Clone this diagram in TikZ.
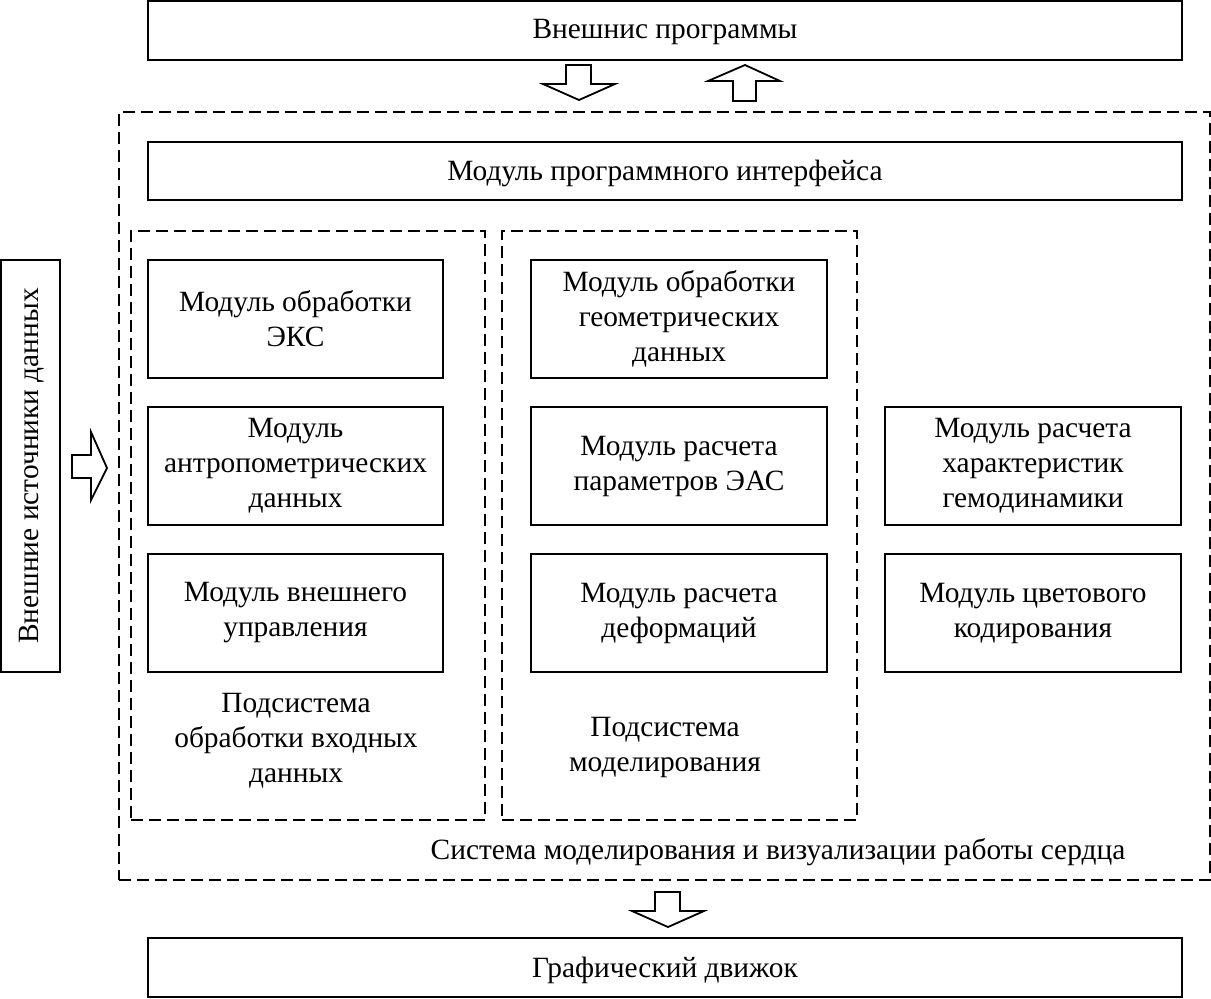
\documentclass[tikz,border=0pt]{standalone}
\usepackage{fontspec}
\setmainfont{Liberation Serif}
\usetikzlibrary{fit}
\begin{document}
\begin{tikzpicture}[x=0.5pt,y=-0.5pt,
  every node/.style={font=\fontsize{14.7}{17.5}\selectfont},
  box/.style={draw,line width=1pt,inner sep=0pt,align=center},
  dbox/.style={draw,line width=0.9pt,dash pattern=on 6pt off 3pt,inner sep=0pt},
  blockarrow/.style={draw,line width=0.9pt,fill=white,line join=miter},
  lbl/.style={align=center,inner sep=0pt}]
\useasboundingbox (0,0) rectangle (1211,998);
% outer dashed system
\node[dbox,fit={(119,112) (1210,880)}] (sys) {};
\node[dbox,fit={(131,231) (485,820)}] (sub1) {};
\node[dbox,fit={(502,231) (857,820)}] (sub2) {};
% top / bottom boxes
\node[box,fit={(148,1) (1182,60)}] (ext) {};
\node[lbl] (extt) at (665,32) {Внешнис программы};
\node[box,fit={(148,142) (1182,200)}] (api) {};
\node[lbl] (apit) at (665,173) {Модуль программного интерфейса};
\node[box,fit={(148,938) (1182,997)}] (gfx) {};
\node[lbl] (gfxt) at (665,970) {Графический движок};
% left source box
\node[box,fit={(1,260) (60,672)}] (src) {};
\node[lbl,rotate=90] (srct) at (32,466) {Внешние источники данных};
% column 1
\node[box,fit={(148,260) (443,378)}] (a1) {};
\node[lbl] at (a1.center) {Модуль обработки\\ЭКС};
\node[box,fit={(148,407) (443,525)}] (a2) {};
\node[lbl] at (a2.center) {Модуль\\антропометрических\\данных};
\node[box,fit={(148,554) (443,672)}] (a3) {};
\node[lbl] at (a3.center) {Модуль внешнего\\управления};
% column 2
\node[box,fit={(531,260) (827,378)}] (b1) {};
\node[lbl] at (b1.center) {Модуль обработки\\геометрических\\данных};
\node[box,fit={(531,407) (827,525)}] (b2) {};
\node[lbl] at (b2.center) {Модуль расчета\\параметров ЭАС};
\node[box,fit={(531,554) (827,672)}] (b3) {};
\node[lbl] at (b3.center) {Модуль расчета\\деформаций};
% column 3
\node[box,fit={(885,407) (1181,525)}] (c1) {};
\node[lbl] at (c1.center) {Модуль расчета\\характеристик\\гемодинамики};
\node[box,fit={(885,554) (1181,672)}] (c2) {};
\node[lbl] at (c2.center) {Модуль цветового\\кодирования};
% labels
\node[lbl] (sub1t) at (296,741) {Подсистема\\обработки входных\\данных};
\node[lbl] (sub2t) at (665,747) {Подсистема\\моделирования};
\node[lbl] (syst) at (778,852) {Система моделирования и визуализации работы сердца};
% block arrows
\draw[blockarrow] (566,65) -- (591,65) -- (591,84) -- (615,84) -- (579,100) -- (543,84) -- (566,84) -- cycle;
\draw[blockarrow] (733,101) -- (756,101) -- (756,81) -- (780,81) -- (745,65) -- (708,81) -- (733,81) -- cycle;
\draw[blockarrow] (655,892) -- (680,892) -- (680,911) -- (704,911) -- (668,927) -- (632,911) -- (655,911) -- cycle;
\draw[blockarrow] (72,455) -- (91,455) -- (91,432) -- (107,468) -- (91,500) -- (91,478) -- (72,478) -- cycle;
\end{tikzpicture}
\end{document}
